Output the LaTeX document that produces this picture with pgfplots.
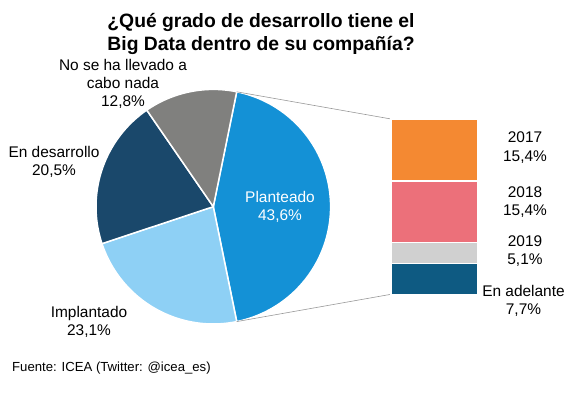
\documentclass[border=0pt]{standalone}
\usepackage{pgfplots}
\pgfplotsset{compat=1.18}
\usepackage{fontspec}
\setmainfont{Liberation Sans}
\definecolor{cPlan}{RGB}{20,145,214}
\definecolor{cImpl}{RGB}{142,208,245}
\definecolor{cDes}{RGB}{26,72,107}
\definecolor{cNada}{RGB}{128,128,126}
\definecolor{c17}{RGB}{244,137,50}
\definecolor{c18}{RGB}{236,112,122}
\definecolor{c19}{RGB}{208,208,208}
\definecolor{cAdel}{RGB}{14,90,130}
% pie data (percent)
\def\pPlan{43.6}
\def\pImpl{23.1}
\def\pDes{20.5}
\def\pNada{12.8}
\pgfmathsetmacro\aA{\pPlan*1.8}
\pgfmathsetmacro\aB{-\aA}
\pgfmathsetmacro\aC{\aB-\pImpl*3.6}
\pgfmathsetmacro\aD{\aC-\pDes*3.6}
\pgfmathsetmacro\aE{\aD-\pNada*3.6}
\def\cx{213.3}
\def\cy{190.3}
\def\rr{117.3}
\newcommand\lbl{\fontsize{15.5}{18.3}\selectfont}
\begin{document}
\begin{tikzpicture}
\useasboundingbox (0,0) rectangle (576bp,397bp);
\begin{axis}[
  name=main,
  at={(0,0)}, anchor=south west,
  width=576bp, height=397bp, scale only axis,
  xmin=0, xmax=576, ymin=0, ymax=397,
  hide axis, clip=false,
]
\addplot[fill=cPlan, draw=white, line width=1.5bp, domain=\aA:\aB, samples=80] ({\cx+\rr*cos(x)},{\cy+\rr*sin(x)}) -- (axis cs:\cx,\cy) -- cycle;
\addplot[fill=cImpl, draw=white, line width=1.5bp, domain=\aB:\aC, samples=60] ({\cx+\rr*cos(x)},{\cy+\rr*sin(x)}) -- (axis cs:\cx,\cy) -- cycle;
\addplot[fill=cDes, draw=white, line width=1.5bp, domain=\aC:\aD, samples=60] ({\cx+\rr*cos(x)},{\cy+\rr*sin(x)}) -- (axis cs:\cx,\cy) -- cycle;
\addplot[fill=cNada, draw=white, line width=1.5bp, domain=\aD:\aE, samples=40] ({\cx+\rr*cos(x)},{\cy+\rr*sin(x)}) -- (axis cs:\cx,\cy) -- cycle;
% connectors
\addplot[draw=gray!80, line width=0.6bp] coordinates {(236.7,305.2) (391,278)};
\addplot[draw=gray!80, line width=0.6bp] coordinates {(236.7,75.4) (391,102.7)};
% labels
\node[font=\fontsize{19.4}{24}\selectfont\bfseries, align=center] at (axis cs:261,363) {¿Qué grado de desarrollo tiene el\\Big Data dentro de su compañía?};
\node[font=\lbl, align=center] at (axis cs:123,313) {No se ha llevado a\\cabo nada\\12,8\%};
\node[font=\lbl, align=center] at (axis cs:54,235) {En desarrollo\\20,5\%};
\node[font=\lbl, align=center] at (axis cs:89,75) {Implantado\\23,1\%};
\node[font=\lbl, align=center, text=white] at (axis cs:280,190) {Planteado\\43,6\%};
\node[font=\lbl, align=center] at (axis cs:525,249.5) {2017\\15,4\%};
\node[font=\lbl, align=center] at (axis cs:525,195) {2018\\15,4\%};
\node[font=\lbl, align=center] at (axis cs:525,146) {2019\\5,1\%};
\node[font=\lbl, align=center] at (axis cs:523.5,96) {En adelante\\7,7\%};
\node[font=\fontsize{13.2}{15}\selectfont, anchor=west, inner sep=0pt] at (axis cs:12,29) {Fuente: ICEA (Twitter: @icea\_es)};
\end{axis}
\begin{axis}[
  at={(391bp,102.7bp)}, anchor=south west,
  width=87bp, height=175.3bp, scale only axis,
  xmin=0, xmax=1, ymin=0, ymax=43.6,
  hide axis, clip=false,
  ybar stacked, bar width=87bp,
]
\addplot[fill=cAdel, draw=white, line width=1.2bp] coordinates {(0.5,7.7)};
\addplot[fill=c19, draw=white, line width=1.2bp] coordinates {(0.5,5.1)};
\addplot[fill=c18, draw=white, line width=1.2bp] coordinates {(0.5,15.4)};
\addplot[fill=c17, draw=white, line width=1.2bp] coordinates {(0.5,15.4)};
\end{axis}
\end{tikzpicture}
\end{document}
